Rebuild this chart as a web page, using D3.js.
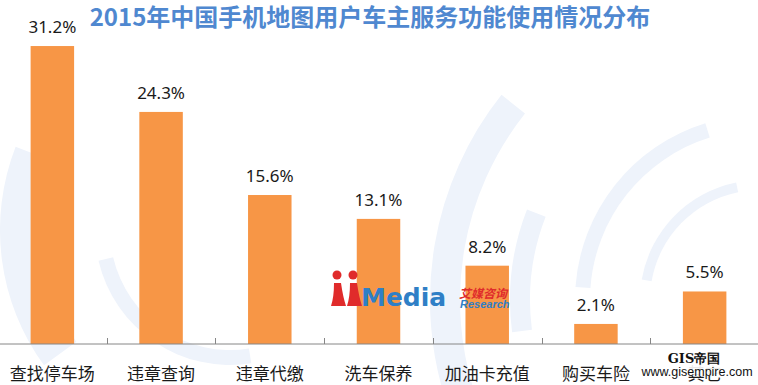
<!DOCTYPE html>
<html>
<head>
<meta charset="utf-8">
<script src="https://cdn.jsdelivr.net/npm/d3@7"></script>
<style>
  body { margin: 0; background: #fff; }
  svg { display: block; }
</style>
</head>
<body>
<div id="chart"></div>
<script>
// data
const categories = ['查找停车场', '违章查询', '违章代缴', '洗车保养', '加油卡充值', '购买车险', '其它'];
const shares = [31.2, 24.3, 15.6, 13.1, 8.2, 2.1, 5.5];
const chartTitle = '2015年中国手机地图用户车主服务功能使用情况分布';

const width = 758, height = 385;
const baseY = 344;

const svg = d3.select('#chart').append('svg')
    .attr('width', width)
    .attr('height', height);

// faint background decoration (arcs)
const deco = svg.append('g').attr('fill', '#eef3fb');
const arcGen = d3.arc();
const rings = [
    { cx: 760, cy: 300, r0: 300, r1: 330, a0: -1.9, a1: -0.9 },
    { cx: 760, cy: 300, r0: 230, r1: 250, a0: -1.7, a1: -1.2 },
    { cx: 760, cy: 300, r0: 170, r1: 185, a0: -1.5, a1: -0.3 },
    { cx: 760, cy: 300, r0: 110, r1: 120, a0: -1.4, a1: -0.2 },
    { cx: 760, cy: 300, r0: 380, r1: 420, a0: -2.3, a1: -2.0 },
    { cx: 230, cy: 230, r0: 190, r1: 230, a0: -2.2, a1: -1.2 },
    { cx: 230, cy: 230, r0: 190, r1: 230, a0: -3.6, a1: -2.6 },
    { cx: 230, cy: 230, r0: 120, r1: 135, a0: -3.3, a1: -1.8 }
];
rings.forEach(r => {
    deco.append('path')
        .attr('transform', `translate(${r.cx},${r.cy})`)
        .attr('d', arcGen({ innerRadius: r.r0, outerRadius: r.r1, startAngle: r.a0, endAngle: r.a1 }));
});

// scales
const x = d3.scaleBand()
    .domain(categories)
    .range([-2, 759])
    .padding(0);

const y = d3.scaleLinear()
    .domain([0, 35])
    .range([baseY, baseY - 35 * 9.55]);

const barW = x.bandwidth() * 0.4;

// bars
svg.append('g').selectAll('rect')
    .data(shares)
    .join('rect')
    .attr('x', (d, i) => x(categories[i]) + x.bandwidth() / 2 - barW / 2)
    .attr('y', d => y(d))
    .attr('width', barW)
    .attr('height', d => baseY - y(d))
    .attr('fill', '#f79646');

// value labels
svg.append('g').selectAll('text')
    .data(shares)
    .join('text')
    .attr('x', (d, i) => x(categories[i]) + x.bandwidth() / 2)
    .attr('y', d => y(d) - 13)
    .attr('text-anchor', 'middle')
    .style('font-family', '"Noto Sans", "Liberation Sans", sans-serif')
    .style('font-size', '17px')
    .attr('fill', '#1a1a1a')
    .text(d => d.toFixed(1) + '%');

// x axis: line + ticks between categories (inside)
const axis = svg.append('g').attr('transform', `translate(0,${baseY})`);
axis.append('line')
    .attr('x1', 0).attr('x2', width)
    .attr('stroke', '#868686').attr('stroke-width', 1);
axis.selectAll('.tick')
    .data(categories.slice(1))
    .join('line')
    .attr('class', 'tick')
    .attr('x1', d => Math.round(x(d)) + 0.5)
    .attr('x2', d => Math.round(x(d)) + 0.5)
    .attr('y1', -6).attr('y2', 0)
    .attr('stroke', '#868686');

svg.append('g').selectAll('text')
    .data(categories)
    .join('text')
    .attr('x', d => x(d) + x.bandwidth() / 2)
    .attr('y', 380)
    .attr('text-anchor', 'middle')
    .style('font-family', '"Noto Sans CJK SC", sans-serif')
    .style('font-size', '17px')
    .attr('fill', '#1a1a1a')
    .text(d => d);

// title
svg.append('text')
    .attr('x', 370)
    .attr('y', 26)
    .attr('text-anchor', 'middle')
    .style('font-family', '"Noto Sans CJK SC", sans-serif')
    .style('font-size', '24px')
    .style('font-weight', 'bold')
    .attr('fill', '#4f88d0')
    .text(chartTitle);

// iMedia watermark
const logo = svg.append('g').attr('transform', 'translate(331,269)');
logo.append('circle').attr('cx', 6).attr('cy', 6).attr('r', 4.5).attr('fill', '#e02b2b');
logo.append('circle').attr('cx', 22).attr('cy', 6).attr('r', 4.5).attr('fill', '#e02b2b');
logo.append('path').attr('d', 'M3,14 L10,14 Q12,28 15,37 L0,37 Q3,28 3,14 Z').attr('fill', '#e02b2b');
logo.append('path').attr('d', 'M19,14 L26,14 Q28,28 31,37 L16,37 Q19,28 19,14 Z').attr('fill', '#e02b2b');
logo.append('text')
    .attr('x', 30).attr('y', 37)
    .style('font-family', '"DejaVu Sans", sans-serif')
    .style('font-size', '25px')
    .style('font-weight', 'bold')
    .attr('fill', '#2f7fc6')
    .text('Media');
logo.append('text')
    .attr('x', 128).attr('y', 29)
    .style('font-family', '"Noto Sans CJK SC", sans-serif')
    .style('font-size', '12px')
    .style('font-weight', 'bold')
    .style('font-style', 'italic')
    .attr('fill', '#e02b2b')
    .text('艾媒咨询');
logo.append('text')
    .attr('x', 129).attr('y', 39)
    .style('font-family', '"Liberation Sans", sans-serif')
    .style('font-size', '11px')
    .style('font-weight', 'bold')
    .style('font-style', 'italic')
    .attr('fill', '#2f7fc6')
    .text('Research');

// GIS帝国 watermark
const gis = svg.append('g');
gis.append('rect')
    .attr('x', 643).attr('y', 350).attr('width', 108).attr('height', 26)
    .attr('fill', '#fff').attr('opacity', 0.9);
gis.append('text')
    .attr('x', 694).attr('y', 363)
    .attr('text-anchor', 'middle')
    .style('font-family', '"DejaVu Serif", serif')
    .style('font-size', '13px')
    .style('font-weight', 'bold')
    .attr('fill', '#111')
    .text('GIS帝国');
gis.append('text')
    .attr('x', 697).attr('y', 376)
    .attr('text-anchor', 'middle')
    .style('font-family', '"Liberation Sans", Arial, sans-serif')
    .style('font-size', '12.5px')
    .attr('fill', '#111')
    .text('www.gisempire.com');
</script>
</body>
</html>
